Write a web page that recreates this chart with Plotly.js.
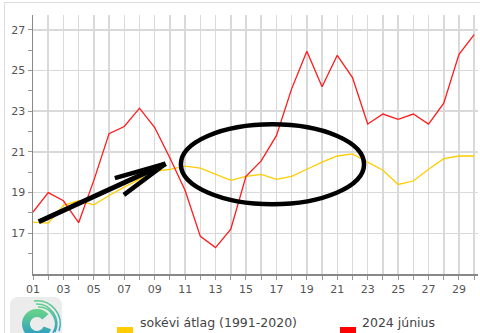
<!DOCTYPE html>
<html><head><meta charset="utf-8">
<script src="https://cdn.plot.ly/plotly-3.0.1.min.js"></script>
<style>
html,body{margin:0;padding:0;background:#fff;overflow:hidden}
#wrap{position:relative;width:480px;height:333px}
#chart{position:absolute;left:0;top:0;width:480px;height:333px}
#frame{position:absolute;left:4px;top:2px;width:520px;height:400px;border:1px solid #dcdcdc;pointer-events:none}
#logo{position:absolute;left:0;top:0;pointer-events:none}
</style>
</head><body>
<div id="wrap">
<div id="chart"></div>
<div id="frame"></div>
<svg id="logo" width="480" height="333">
  <defs>
    <linearGradient id="lg" x1="0" y1="0" x2="0" y2="1">
      <stop offset="0" stop-color="#62cf8c"/>
      <stop offset="1" stop-color="#2e9fc2"/>
    </linearGradient>
  </defs>
  <rect x="10" y="297" width="52" height="52" rx="8" fill="#ececec"/>
  <path d="M45.4 316.9 A11 11 0 1 0 47.3 327.8" fill="none" stroke="url(#lg)" stroke-width="8"/>
  <path d="M36 304 A20 20 0 0 1 55 332" fill="none" stroke="url(#lg)" stroke-width="1.6"/>
  <path d="M38 307 A17 17 0 0 1 53 333" fill="none" stroke="url(#lg)" stroke-width="1.6"/>
  <path d="M34 301 A23 23 0 0 1 59 331" fill="none" stroke="url(#lg)" stroke-width="1.4"/>
</svg>
</div>
<script>
const days = [1,2,3,4,5,6,7,8,9,10,11,12,13,14,15,16,17,18,19,20,21,22,23,24,25,26,27,28,29,30];
const dayLabels = ['01','','03','','05','','07','','09','','11','','13','','15','','17','','19','','21','','23','','25','','27','','29',''];
const yTicks = [17,19,21,23,25,27];
const avgName = 'sokévi átlag (1991-2020)';
const juneName = '2024 június';
const avgTemp = [17.55,17.5,18.37,18.6,18.4,18.86,19.27,19.68,20.05,20.14,20.3,20.2,19.9,19.6,19.8,19.9,19.65,19.8,20.15,20.5,20.8,20.9,20.5,20.1,19.4,19.57,20.15,20.67,20.8,20.8];
const june2024 = [18.04,19.0,18.6,17.52,19.6,21.9,22.25,23.15,22.2,20.7,19.1,16.85,16.3,17.2,19.8,20.56,21.8,24.1,25.95,24.2,25.75,24.65,22.37,22.86,22.6,22.86,22.37,23.4,25.8,26.77];

const RED = '#ff1a1a', YEL = '#ffcc00';
const M = {l:33, r:2, t:15, b:59};
const W = 480, H = 333;
const pw = W - M.l - M.r, ph = H - M.t - M.b;
const px = x => (x - M.l) / pw;
const py = y => (H - M.b - y) / ph;

// hand-drawn overlay (ellipse + arrow), in data units
const ellipse = {x0:10.72, x1:22.76, y0:18.43, y1:22.36};
const arrowShaft = [[1.375,17.57],[9.71,20.42]];
const arrowBarbs = [[6.38,19.71],[6.97,18.89]];

const traces = [
  {x: days, y: avgTemp, type:'scatter', mode:'lines', name: avgName,
   line:{color:YEL, width:1.3}, hoverinfo:'skip'},
  {x: days, y: june2024, type:'scatter', mode:'lines', name: juneName,
   line:{color:RED, width:1.3}, hoverinfo:'skip'}
];

const shapes = [
  {type:'circle', xref:'x', yref:'y', x0:ellipse.x0, x1:ellipse.x1, y0:ellipse.y0, y1:ellipse.y1,
   line:{color:'#000', width:4.5}, layer:'above'},
  {type:'line', xref:'x', yref:'y', x0:arrowShaft[0][0], y0:arrowShaft[0][1], x1:arrowShaft[1][0], y1:arrowShaft[1][1],
   line:{color:'#000', width:5}},
  ...arrowBarbs.map(b => ({type:'line', xref:'x', yref:'y', x0:b[0], y0:b[1], x1:arrowShaft[1][0], y1:arrowShaft[1][1],
   line:{color:'#000', width:4.5}})),
  {type:'rect', xref:'paper', yref:'paper', x0:px(117), x1:px(133), y0:py(327), y1:py(340),
   fillcolor:YEL, line:{width:0}},
  {type:'rect', xref:'paper', yref:'paper', x0:px(340), x1:px(356), y0:py(327), y1:py(340),
   fillcolor:'#ff0000', line:{width:0}}
];

const annotations = [
  {xref:'paper', yref:'paper', x:px(138), y:py(322), xanchor:'left', yanchor:'middle', showarrow:false,
   text: avgName, font:{family:'DejaVu Sans, Verdana, sans-serif', size:12.5, color:'#444'}},
  {xref:'paper', yref:'paper', x:px(360), y:py(322), xanchor:'left', yanchor:'middle', showarrow:false,
   text: juneName, font:{family:'DejaVu Sans, Verdana, sans-serif', size:12.5, color:'#444'}}
];

const layout = {
  width: W, height: H,
  margin: M,
  paper_bgcolor:'rgba(0,0,0,0)', plot_bgcolor:'#fff',
  showlegend:false,
  font:{family:'DejaVu Sans, Verdana, sans-serif', size:11, color:'#555'},
  xaxis:{range:[1,30.25], tickvals:days, ticktext:dayLabels, ticks:'outside', ticklen:4, tickcolor:'#999',
         showgrid:true, gridcolor:'#d9d9d9', gridwidth:1.5, showline:true, linecolor:'#888', linewidth:1.5,
         zeroline:false, fixedrange:true, tickfont:{size:11, color:'#555'}},
  yaxis:{range:[15,27.73], tickvals:yTicks, ticks:'outside', ticklen:4, tickcolor:'#999',
         showgrid:true, gridcolor:'#d9d9d9', gridwidth:1.5, showline:true, linecolor:'#888', linewidth:1.5,
         zeroline:false, fixedrange:true, tickfont:{size:11, color:'#555'},
         minor:{tickvals:[16,18,20,22,24,26], ticks:'outside', ticklen:4, tickcolor:'#999', showgrid:false}},
  shapes, annotations
};

Plotly.newPlot('chart', traces, layout, {staticPlot:true, displayModeBar:false});
</script>
</body></html>
